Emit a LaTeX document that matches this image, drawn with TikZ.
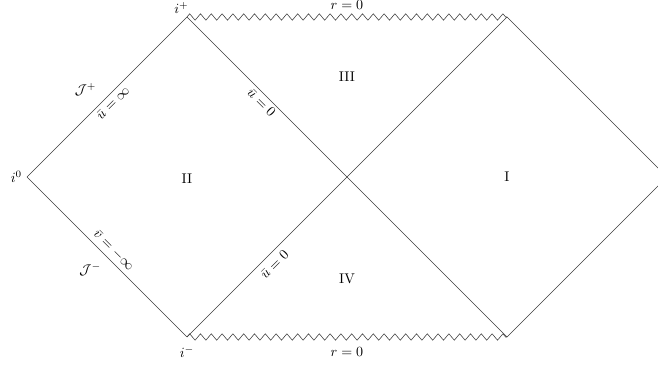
\documentclass[tikz,border=0pt]{standalone}
\usepackage{amssymb}
\usepackage{tikz}
\usetikzlibrary{
  positioning,
  decorations.pathmorphing
}
\definecolor{lineink}{RGB}{60,60,60}

\begin{document}
\begin{tikzpicture}[
  horizon/.style={draw=lineink, line width=0.4pt},
  singular/.style={draw=lineink, line width=0.4pt, decorate,
                   decoration={zigzag, segment length=0.27cm, amplitude=0.08cm}},
  region/.style={font=\normalsize},
  slab/.style={sloped, inner sep=2pt},
]
\useasboundingbox (-8.675,-4.85) rectangle (7.775,4.425);

\coordinate (izero) at (-8,0);
\coordinate (iplus) at (-4,4);
\coordinate (iminus) at (-4,-4);
\coordinate (center) at (0,0);
\coordinate (topright) at (4,4);
\coordinate (botright) at (4,-4);
\coordinate (farright) at (8,0);

\draw[horizon] (izero) -- (iplus)
  node[slab, midway, below=1pt] (uinf) {$\bar u = \infty$}
  node[pos=0.47, above left=1pt] (scriplus) {$\mathcal{J}^+$};
\draw[horizon] (izero) -- (iminus)
  node[slab, midway, above=1pt] (vinf) {$\bar v = -\infty$}
  node[pos=0.5, below left=1pt] (scriminus) {$\mathcal{J}^-$};
\draw[horizon] (iplus) -- (center)
  node[slab, midway, below=0pt] (uzeroa) {$\bar u = 0$};
\draw[horizon] (center) -- (botright);
\draw[horizon] (iminus) -- (center)
  node[slab, midway, below=2pt] (uzerob) {$\bar u = 0$};
\draw[horizon] (center) -- (topright);
\draw[horizon] (topright) -- (farright) -- (botright);

\draw[singular] (iplus) -- (topright)
  node[midway, above=2pt] (rtop) {$r = 0$};
\draw[singular] (iminus) -- (botright)
  node[midway, below=4pt] (rbot) {$r = 0$};

\node[above=-1pt of iplus, xshift=-4pt] (lplus) {$i^+$};
\node[left=0pt of izero] (lzero) {$i^0$};
\node[below=3pt of iminus] (lminus) {$i^-$};

\node[region] (one) at (4,0) {I};
\node[region] (two) at (-4,-0.05) {II};
\node[region] (three) at (0,2.5) {III};
\node[region] (four) at (0,-2.55) {IV};

\end{tikzpicture}
\end{document}
